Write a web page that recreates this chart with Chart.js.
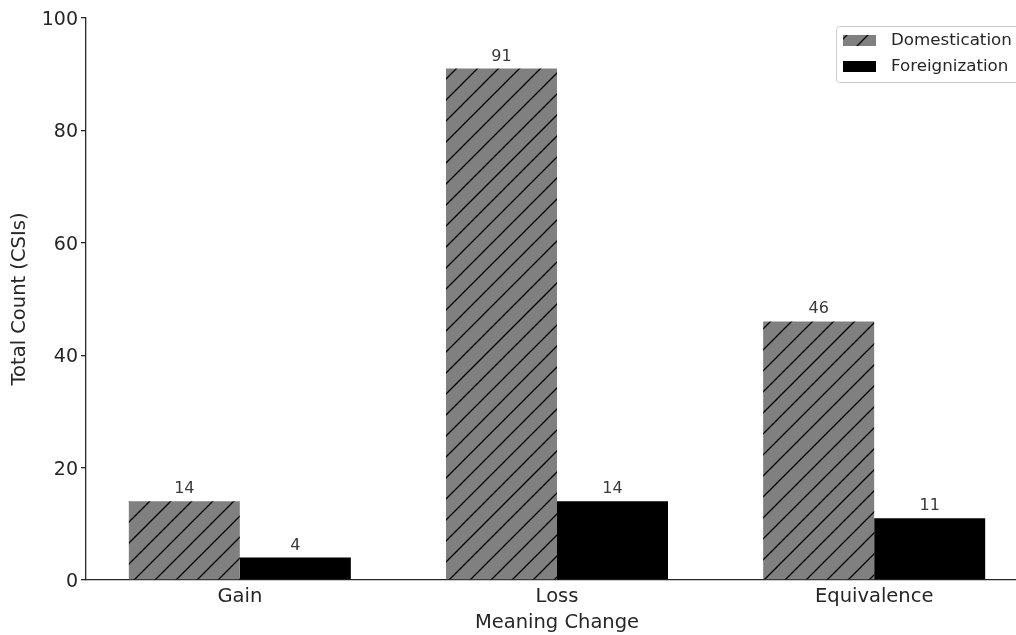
<!DOCTYPE html>
<html lang="en">
<head>
<meta charset="utf-8">
<title>Meaning Change - CSIs</title>
<script src="https://cdn.jsdelivr.net/npm/chart.js"></script>
<style>
  html, body { margin: 0; padding: 0; background: #fff; overflow: hidden; }
  #wrap { width: 1040px; height: 635px; }
</style>
</head>
<body>
<div id="wrap"><canvas id="chart"></canvas></div>
<script>
const categories = ['Gain', 'Loss', 'Equivalence'];
const domestication = [14, 91, 46];
const foreignization = [4, 14, 11];
const seriesNames = ['Domestication', 'Foreignization'];
const yTicks = [0, 20, 40, 60, 80, 100];

const FONT = "'DejaVu Sans', sans-serif";
const INK = '#262626';

// diagonal "/" hatch on gray, like matplotlib's hatch='/'
function makeHatch() {
    const s = 21;
    const c = document.createElement('canvas');
    c.width = s; c.height = s;
    const g = c.getContext('2d');
    g.fillStyle = '#808080';
    g.fillRect(0, 0, s, s);
    g.strokeStyle = '#000';
    g.lineWidth = 1.3;
    g.beginPath();
    g.moveTo(-3, s + 3); g.lineTo(s + 3, -3);
    g.moveTo(-3, 3); g.lineTo(3, -3);
    g.moveTo(s - 3, s + 3); g.lineTo(s + 3, s - 3);
    g.stroke();
    return g.createPattern(c, 'repeat');
}
const hatch = makeHatch();

const valueLabels = {
    id: 'valueLabels',
    afterDatasetsDraw(chart) {
        const ctx = chart.ctx;
        ctx.save();
        ctx.font = '16px ' + FONT;
        ctx.fillStyle = '#3a3a3a';
        ctx.textAlign = 'center';
        ctx.textBaseline = 'alphabetic';
        chart.data.datasets.forEach((ds, i) => {
            chart.getDatasetMeta(i).data.forEach((bar, j) => {
                ctx.fillText(String(ds.data[j].y), bar.x, bar.y - 8);
            });
        });
        ctx.restore();
    }
};

const boxLegend = {
    id: 'boxLegend',
    afterDraw(chart) {
        const ctx = chart.ctx;
        ctx.save();
        ctx.beginPath();
        ctx.roundRect(836.5, 26.5, 220, 56, 3);
        ctx.fillStyle = 'rgba(255,255,255,0.8)';
        ctx.fill();
        ctx.strokeStyle = '#cccccc';
        ctx.lineWidth = 1;
        ctx.stroke();
        const fills = [hatch, '#000'];
        ctx.font = '16.7px ' + FONT;
        ctx.textBaseline = 'middle';
        ctx.textAlign = 'left';
        seriesNames.forEach((name, i) => {
            const y = 35 + i * 26;
            ctx.fillStyle = fills[i];
            ctx.fillRect(843, y, 33, 11);
            ctx.fillStyle = INK;
            ctx.fillText(name, 891, y + 6);
        });
        ctx.restore();
    }
};

new Chart(document.getElementById('chart'), {
    type: 'bar',
    data: {
        datasets: [{
            label: seriesNames[0],
            data: domestication.map((v, i) => ({ x: i, y: v })),
            backgroundColor: hatch,
            borderWidth: 0
        }, {
            label: seriesNames[1],
            data: foreignization.map((v, i) => ({ x: i, y: v })),
            backgroundColor: '#000',
            borderWidth: 0
        }]
    },
    options: {
        responsive: true,
        maintainAspectRatio: false,
        animation: false,
        datasets: { bar: { categoryPercentage: 0.7, barPercentage: 1.0 } },
        layout: { padding: { left: 0, top: 18, right: 12, bottom: 0 } },
        plugins: { legend: { display: false }, tooltip: { enabled: false } },
        scales: {
            x: {
                type: 'linear',
                offset: false,
                min: -0.485,
                max: 2.485,
                afterBuildTicks: s => { s.ticks = categories.map((c, i) => ({ value: i })); },
                afterFit: s => { s.height = 55; },
                grid: { display: false, drawTicks: false },
                border: { display: true, color: INK, width: 1.3 },
                ticks: {
                    padding: 5,
                    color: INK,
                    font: { family: FONT, size: 19.5 },
                    callback: v => categories[v]
                },
                title: {
                    display: true,
                    text: 'Meaning Change',
                    color: INK,
                    font: { family: FONT, size: 19.5 },
                    padding: { top: 0, bottom: 0 }
                }
            },
            y: {
                min: 0,
                max: 100,
                afterBuildTicks: s => { s.ticks = yTicks.map(v => ({ value: v })); },
                afterFit: s => { s.width = 86; },
                grid: { drawOnChartArea: false, drawTicks: true, tickLength: 5, color: INK, lineWidth: 1.3 },
                border: { display: true, color: INK, width: 1.3 },
                ticks: {
                    padding: 3,
                    labelOffset: 2,
                    color: INK,
                    font: { family: FONT, size: 19 }
                },
                title: {
                    display: true,
                    text: 'Total Count (CSIs)',
                    color: INK,
                    font: { family: FONT, size: 19.5 },
                    padding: { top: 8, bottom: 0 }
                }
            }
        }
    },
    plugins: [valueLabels, boxLegend]
});
</script>
</body>
</html>
